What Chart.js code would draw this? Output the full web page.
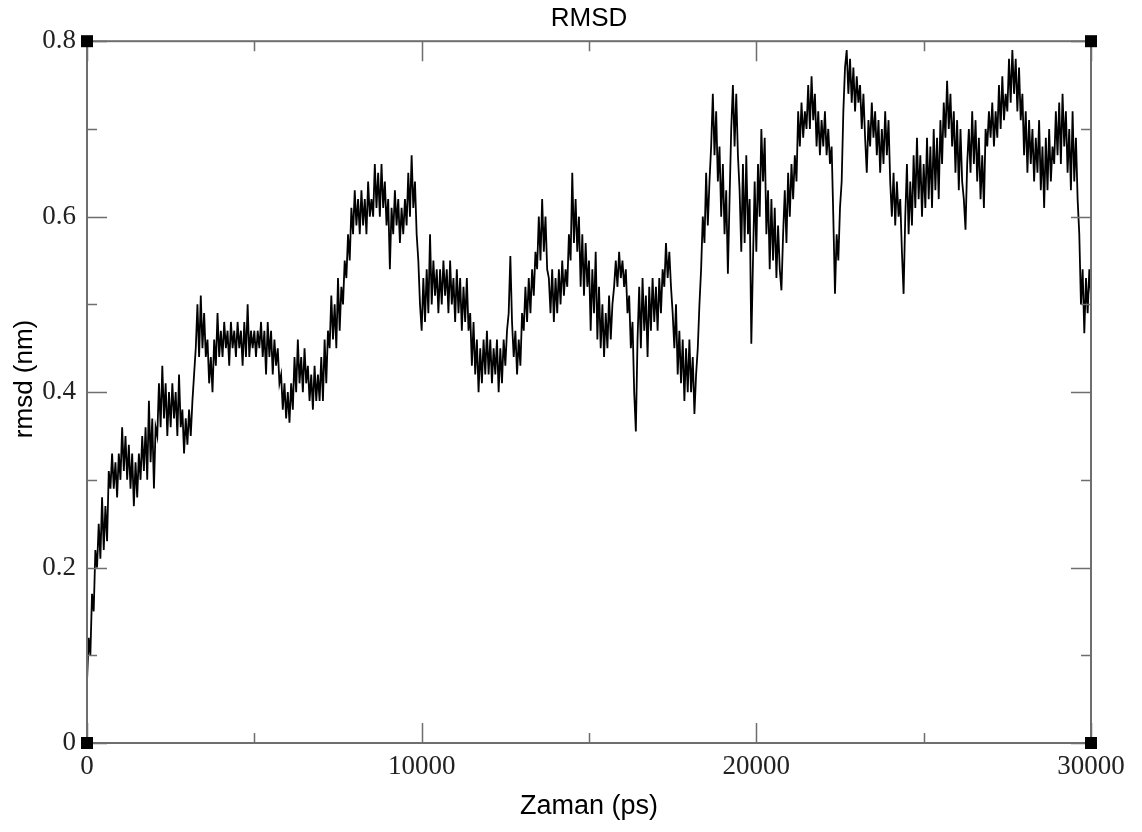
<!DOCTYPE html>
<html>
<head>
<meta charset="utf-8">
<script src="https://cdn.jsdelivr.net/npm/chart.js@4/dist/chart.umd.min.js"></script>
<style>
  html, body { margin: 0; padding: 0; background: #fff; }
  #wrap { width: 1142px; height: 832px; }
</style>
</head>
<body>
<div id="wrap"><canvas id="rmsdChart"></canvas></div>
<script>
// sampling step of the trace (ps)
const STEP = 50;

// rmsd (nm), one row per 1000 ps
const rmsd = [
  0.07,0.12,0.10,0.17,0.15,0.22,0.20,0.25,0.21,0.28,0.22,0.27,0.23,0.31,0.29,0.33,0.29,0.32,0.28,0.33,
  0.30,0.36,0.31,0.35,0.30,0.34,0.29,0.33,0.27,0.32,0.28,0.33,0.30,0.35,0.31,0.36,0.30,0.39,0.32,0.37,
  0.29,0.36,0.35,0.41,0.36,0.43,0.37,0.41,0.35,0.40,0.36,0.41,0.37,0.40,0.35,0.42,0.36,0.38,0.33,0.37,
  0.34,0.38,0.35,0.39,0.42,0.45,0.50,0.44,0.51,0.45,0.49,0.44,0.46,0.41,0.44,0.40,0.46,0.43,0.49,0.44,
  0.47,0.44,0.48,0.45,0.47,0.43,0.48,0.45,0.47,0.44,0.48,0.45,0.47,0.43,0.48,0.44,0.50,0.44,0.47,0.45,
  0.47,0.44,0.47,0.45,0.48,0.44,0.47,0.42,0.48,0.44,0.47,0.42,0.46,0.43,0.45,0.41,0.42,0.38,0.41,0.37,
  0.40,0.365,0.41,0.38,0.44,0.40,0.46,0.41,0.44,0.40,0.45,0.41,0.43,0.39,0.42,0.38,0.43,0.39,0.42,0.39,
  0.44,0.39,0.46,0.41,0.47,0.45,0.51,0.46,0.50,0.45,0.53,0.47,0.52,0.50,0.55,0.53,0.58,0.55,0.61,0.58,
  0.63,0.59,0.62,0.58,0.63,0.59,0.62,0.58,0.64,0.60,0.62,0.60,0.66,0.61,0.65,0.60,0.66,0.61,0.64,0.59,
  0.62,0.54,0.61,0.58,0.63,0.59,0.62,0.57,0.61,0.58,0.62,0.59,0.65,0.60,0.67,0.61,0.64,0.58,0.55,0.50,
  0.47,0.53,0.48,0.54,0.49,0.58,0.50,0.55,0.51,0.54,0.49,0.54,0.50,0.55,0.51,0.54,0.49,0.55,0.50,0.53,
  0.48,0.54,0.49,0.53,0.47,0.52,0.48,0.53,0.47,0.49,0.43,0.48,0.42,0.46,0.40,0.45,0.41,0.46,0.42,0.47,
  0.42,0.46,0.41,0.45,0.42,0.46,0.40,0.45,0.41,0.46,0.43,0.47,0.49,0.555,0.48,0.44,0.47,0.42,0.46,0.43,
  0.49,0.47,0.52,0.48,0.53,0.49,0.54,0.51,0.56,0.54,0.60,0.55,0.62,0.56,0.60,0.54,0.53,0.49,0.54,0.48,
  0.53,0.49,0.54,0.50,0.55,0.51,0.54,0.52,0.58,0.55,0.65,0.57,0.62,0.56,0.60,0.52,0.58,0.51,0.57,0.52,
  0.55,0.47,0.54,0.49,0.56,0.46,0.52,0.45,0.50,0.44,0.49,0.45,0.51,0.46,0.50,0.52,0.55,0.52,0.56,0.53,
  0.55,0.52,0.54,0.49,0.51,0.45,0.48,0.40,0.355,0.46,0.52,0.45,0.53,0.47,0.51,0.44,0.52,0.47,0.53,0.48,
  0.52,0.47,0.53,0.49,0.54,0.52,0.57,0.53,0.56,0.52,0.49,0.45,0.50,0.42,0.47,0.41,0.46,0.39,0.45,0.40,
  0.46,0.40,0.44,0.375,0.42,0.45,0.50,0.54,0.60,0.57,0.65,0.59,0.64,0.68,0.74,0.67,0.72,0.64,0.68,0.60,
  0.66,0.58,0.63,0.535,0.62,0.70,0.75,0.68,0.74,0.67,0.63,0.56,0.66,0.57,0.67,0.58,0.62,0.455,0.55,0.64,
  0.56,0.66,0.60,0.70,0.64,0.69,0.58,0.63,0.54,0.62,0.55,0.61,0.53,0.59,0.54,0.516,0.58,0.63,0.57,0.65,
  0.60,0.66,0.62,0.67,0.64,0.72,0.68,0.73,0.69,0.72,0.70,0.75,0.70,0.76,0.71,0.74,0.68,0.72,0.67,0.71,
  0.68,0.72,0.67,0.70,0.66,0.68,0.60,0.512,0.58,0.55,0.61,0.64,0.72,0.77,0.79,0.74,0.78,0.73,0.77,0.72,
  0.76,0.73,0.75,0.70,0.74,0.69,0.65,0.71,0.68,0.73,0.69,0.72,0.67,0.71,0.65,0.70,0.66,0.72,0.67,0.71,
  0.64,0.60,0.65,0.59,0.64,0.60,0.62,0.56,0.512,0.60,0.66,0.58,0.64,0.59,0.67,0.61,0.69,0.62,0.67,0.60,
  0.66,0.61,0.69,0.62,0.68,0.61,0.70,0.63,0.69,0.62,0.71,0.66,0.73,0.69,0.755,0.70,0.74,0.68,0.72,0.65,
  0.71,0.63,0.70,0.64,0.62,0.585,0.66,0.70,0.65,0.72,0.66,0.71,0.64,0.69,0.62,0.67,0.61,0.70,0.68,0.72,
  0.69,0.73,0.68,0.72,0.69,0.75,0.70,0.76,0.71,0.74,0.72,0.78,0.73,0.79,0.74,0.78,0.72,0.77,0.71,0.74,
  0.67,0.72,0.65,0.71,0.66,0.70,0.64,0.69,0.65,0.71,0.63,0.68,0.61,0.69,0.63,0.70,0.64,0.68,0.66,0.72,
  0.67,0.73,0.66,0.74,0.68,0.72,0.65,0.70,0.63,0.72,0.64,0.69,0.62,0.58,0.50,0.54,0.467,0.53,0.49,0.54,
  0.51
];

const xMajorTicks = [0, 10000, 20000, 30000];
const xMinorTicks = [5000, 15000, 25000];
const yMajorTicks = [0, 0.2, 0.4, 0.6, 0.8];
const yMinorTicks = [0.1, 0.3, 0.5, 0.7];

const points = rmsd.map((v, i) => ({ x: i * STEP, y: v }));

const frameColor = "#6e6e6e";
const sansFont = "'Liberation Sans', Arial, sans-serif";

// frame, inward ticks, corner squares and the y title (xmgrace look)
const framePlugin = {
  id: "frame",
  afterDatasetsDraw(chart) {
    const ctx = chart.ctx;
    const a = chart.chartArea;
    const xs = chart.scales.x, ys = chart.scales.y;
    ctx.save();
    ctx.strokeStyle = frameColor;
    ctx.lineWidth = 2;
    ctx.strokeRect(a.left, a.top, a.right - a.left, a.bottom - a.top);

    ctx.lineWidth = 1.5;
    ctx.beginPath();
    function xt(list, len) {
      list.forEach(v => {
        const px = Math.round(xs.getPixelForValue(v)) + 0.5;
        ctx.moveTo(px, a.bottom); ctx.lineTo(px, a.bottom - len);
        ctx.moveTo(px, a.top); ctx.lineTo(px, a.top + len);
      });
    }
    function yt(list, len) {
      list.forEach(v => {
        const py = Math.round(ys.getPixelForValue(v)) + 0.5;
        ctx.moveTo(a.left, py); ctx.lineTo(a.left + len, py);
        ctx.moveTo(a.right, py); ctx.lineTo(a.right - len, py);
      });
    }
    xt(xMajorTicks, 20); xt(xMinorTicks, 10);
    yt(yMajorTicks, 20); yt(yMinorTicks, 10);
    ctx.stroke();

    ctx.fillStyle = "#000";
    [[a.left, a.top], [a.right, a.top], [a.left, a.bottom], [a.right, a.bottom]].forEach(c => {
      ctx.fillRect(c[0] - 6, c[1] - 6, 12, 12);
    });

    // y axis title, a little above the middle as in the original
    ctx.translate(25, ys.getPixelForValue(0.415));
    ctx.rotate(-Math.PI / 2);
    ctx.font = "26px " + sansFont;
    ctx.textAlign = "center";
    ctx.textBaseline = "middle";
    ctx.fillStyle = "#000";
    ctx.fillText("rmsd (nm)", 0, 0);
    ctx.restore();
  }
};

new Chart("rmsdChart", {
  type: "line",
  data: {
    datasets: [{
      data: points,
      borderColor: "#000",
      borderWidth: 1.8,
      pointRadius: 0,
      tension: 0,
      fill: false
    }]
  },
  options: {
    responsive: true,
    maintainAspectRatio: false,
    animation: false,
    devicePixelRatio: 1,
    layout: { padding: { top: 0, right: 51, bottom: 0, left: 0 } },
    plugins: {
      legend: { display: false },
      tooltip: { enabled: false },
      title: {
        display: true,
        text: "RMSD",
        fullSize: false,
        color: "#000",
        font: { family: sansFont, size: 26, weight: "normal" },
        padding: { top: 3, bottom: 7 }
      }
    },
    scales: {
      x: {
        type: "linear",
        min: 0,
        max: 30000,
        afterFit(scale) { scale.height = 89; },
        grid: { display: false, drawTicks: false },
        border: { display: false },
        ticks: {
          stepSize: 10000,
          autoSkip: false,
          maxRotation: 0,
          padding: 8,
          color: "#222",
          font: { family: "'Liberation Serif', 'Times New Roman', serif", size: 27 },
          callback: v => String(v)
        },
        title: {
          display: true,
          text: "Zaman (ps)",
          color: "#000",
          font: { family: sansFont, size: 27 },
          padding: { top: 0, bottom: 9 }
        }
      },
      y: {
        min: 0,
        max: 0.8,
        afterFit(scale) { scale.width = 87; },
        grid: { display: false, drawTicks: false },
        border: { display: false },
        ticks: {
          stepSize: 0.2,
          padding: 11,
          color: "#222",
          font: { family: "'Liberation Serif', 'Times New Roman', serif", size: 27 },
          callback: v => String(+v.toFixed(1))
        },
        title: { display: false }
      }
    }
  },
  plugins: [framePlugin]
});
</script>
</body>
</html>
